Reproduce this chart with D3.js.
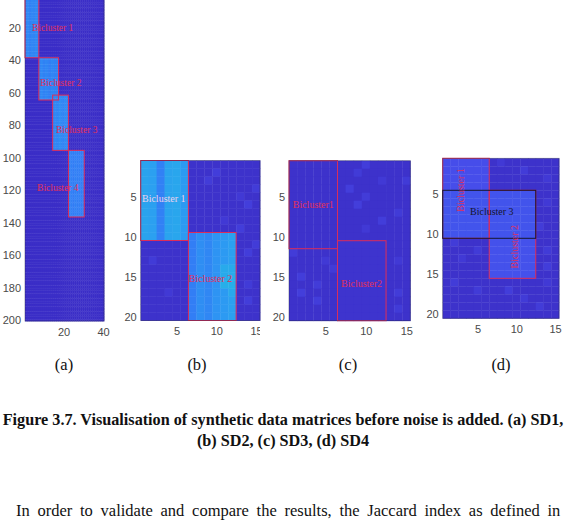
<!DOCTYPE html>
<html>
<head>
<meta charset="utf-8">
<script src="https://cdn.jsdelivr.net/npm/d3@7"></script>
<style>
  body { margin: 0; background: #fff; }
  .tick text { font-family: "Liberation Sans", Arial, sans-serif; font-size: 11px; fill: #4a4a4a; }
  .bc-label { font-family: "Liberation Serif", "Times New Roman", serif; font-size: 10px; }
  .caption { font-family: "Liberation Serif", "Times New Roman", serif; font-size: 16.5px; fill: #111; }
</style>
</head>
<body>
<svg id="fig" width="566" height="531"></svg>
<script>
// matrix sizes [rows, cols]
const sd1Size = [200, 40];
const sd2Size = [20, 15];
const sd3Size = [20, 15];
const sd4Size = [20, 15];

// background level of each matrix
const sd1Background = 0.02;
const sd2Background = 0.05;
const sd3Background = 0.05;
const sd4Background = 0.05;

// biclusters: row range, col range, value per column
const sd1Biclusters = [
  { name: "Bicluster 1", rows: [1, 38], cols: [1, 7], colVals: [0.6, 0.63, 0.58, 0.62, 0.6, 0.64, 0.6] },
  { name: "Bicluster 2", rows: [39, 64], cols: [8, 17], colVals: [0.6, 0.64, 0.58, 0.62, 0.6, 0.56, 0.62, 0.6, 0.58, 0.6] },
  { name: "Bicluster 3", rows: [62, 95], cols: [15, 22], colVals: [0.62, 0.64, 0.6, 0.66, 0.62, 0.6, 0.64, 0.6] },
  { name: "Bicluster 4", rows: [96, 136], cols: [23, 30], colVals: [0.56, 0.58, 0.55, 0.58, 0.56, 0.57, 0.55, 0.56] }
];
const sd2Biclusters = [
  { name: "Bicluster 1", rows: [1, 10], cols: [1, 6], colVals: [0.8, 0.78, 0.58, 0.8, 0.82, 0.74] },
  { name: "Bicluster 2", rows: [10, 20], cols: [7, 12], colVals: [0.56, 0.66, 0.62, 0.7, 0.74, 0.78] }
];
const sd3Biclusters = [
  { name: "Bicluster1", rows: [1, 11], cols: [1, 6], colVals: [0.05, 0.05, 0.05, 0.05, 0.05, 0.05] },
  { name: "Bicluster2", rows: [11, 20], cols: [7, 12], colVals: [0.07, 0.07, 0.07, 0.07, 0.07, 0.07] }
];
const sd4Biclusters = [
  { name: "Bicluster 1", rows: [1, 10], cols: [1, 6], colVals: [0.28, 0.28, 0.28, 0.28, 0.28, 0.28] },
  { name: "Bicluster 2", rows: [5, 15], cols: [7, 12], colVals: [0.3, 0.3, 0.3, 0.3, 0.3, 0.3] },
  { name: "Bicluster 3", rows: [5, 10], cols: [1, 12], colVals: [0.32, 0.32, 0.32, 0.32, 0.32, 0.32, 0.32, 0.32, 0.32, 0.32, 0.32, 0.32] }
];

// single cells that differ from the block value: [row, col, value]
const sd2Spots = [
  [14, 11, 0.85], [15, 11, 0.85], [16, 11, 0.88], [14, 12, 0.85], [15, 12, 0.86], [16, 12, 0.88], [17, 12, 0.84],
  [2, 10, 0.15], [3, 9, 0.14], [6, 14, 0.16], [8, 11, 0.12], [9, 13, 0.15], [4, 15, 0.14], [12, 14, 0.15],
  [13, 2, 0.13], [17, 4, 0.12], [18, 14, 0.15], [5, 13, 0.12], [11, 15, 0.14], [16, 14, 0.13]
];
const sd3Spots = [
  [1, 10, 0.15], [2, 9, 0.13], [3, 12, 0.12], [4, 8, 0.16], [5, 10, 0.14], [6, 9, 0.16], [7, 14, 0.13],
  [8, 12, 0.15], [9, 10, 0.12], [12, 1, 0.14], [13, 5, 0.12], [15, 2, 0.15], [16, 4, 0.14], [17, 2, 0.16],
  [18, 4, 0.15], [14, 6, 0.13], [19, 14, 0.13], [13, 14, 0.12], [3, 15, 0.13], [17, 14, 0.14]
];
const sd4Spots = [
  [1, 8, 0.12], [2, 11, 0.14], [3, 14, 0.12], [11, 2, 0.14], [12, 5, 0.13], [13, 3, 0.12], [14, 14, 0.15],
  [16, 2, 0.14], [17, 5, 0.13], [17, 9, 0.15], [18, 11, 0.13], [19, 13, 0.14], [16, 14, 0.12], [12, 14, 0.13],
  [6, 14, 0.12], [9, 13, 0.14]
];

// text annotations in data coordinates (col, row)
const sd1Labels = [
  { text: "Bicluster 1", c: 4.0, r: 20.2 },
  { text: "Bicluster 2", c: 8.1, r: 54.0 },
  { text: "Bicluster 3", c: 16.2, r: 83.0 },
  { text: "Bicluster 4", c: 6.6, r: 118.7 }
];
const sd2Labels = [
  { text: "Bicluster 1", c: 0.66, r: 5.2, tone: "light" },
  { text: "Bicluster 2", c: 6.54, r: 15.2 }
];
const sd3Labels = [
  { text: "Bicluster1", c: 0.96, r: 6.0 },
  { text: "Bicluster2", c: 6.93, r: 15.8 }
];
const sd4Labels = [
  { text: "Bicluster 1", c: 2.82, r: 4.46, vertical: true },
  { text: "Bicluster 3", c: 4.02, r: 7.09, tone: "dark" },
  { text: "Bicluster 2", c: 9.7, r: 11.55, vertical: true }
];

// tick labels
const sd1RowTicks = [20, 40, 60, 80, 100, 120, 140, 160, 180, 200];
const sd1ColTicks = [20, 40];
const smallRowTicks = [5, 10, 15, 20];
const smallColTicks = [5, 10, 15];

const panelNames = ["(a)", "(b)", "(c)", "(d)"];
const captionLines = [
  "Figure 3.7. Visualisation of synthetic data matrices before noise is added. (a) SD1,",
  "(b) SD2, (c) SD3, (d) SD4"
];
const bodyText = "In order to validate and compare the results, the Jaccard index as defined in";

const fig = d3.select("#fig");

const color = d3.scaleLinear()
  .domain([0, 0.25, 0.5, 0.75, 1])
  .range(["#3a2cc4", "#4848e8", "#3474f6", "#2c9cf2", "#22c0e0"])
  .clamp(true);

function buildMatrix(size, bg, biclusters, spots) {
  const [nr, nc] = size;
  const cells = [];
  for (let r = 1; r <= nr; r++) {
    for (let c = 1; c <= nc; c++) cells.push({ r, c, v: bg });
  }
  const at = (r, c) => cells[(r - 1) * nc + (c - 1)];
  biclusters.forEach(b => {
    for (let r = b.rows[0]; r <= b.rows[1]; r++) {
      for (let c = b.cols[0]; c <= b.cols[1]; c++) at(r, c).v = b.colVals[c - b.cols[0]];
    }
  });
  (spots || []).forEach(([r, c, v]) => { at(r, c).v = v; });
  return cells;
}

function drawPanel(p) {
  const g = fig.append("g");
  const x = d3.scaleLinear().domain([0.5, p.size[1] + 0.5]).range([p.left, p.right]);
  const y = d3.scaleLinear().domain([0.5, p.size[0] + 0.5]).range([p.top, p.bottom]);
  const cw = x(1.5) - x(0.5);
  const ch = y(1.5) - y(0.5);
  const cells = buildMatrix(p.size, p.bg, p.biclusters, p.spots);

  g.append("g")
    .selectAll("rect")
    .data(cells)
    .join("rect")
    .attr("x", d => x(d.c - 0.5))
    .attr("y", d => y(d.r - 0.5))
    .attr("width", cw + 0.4)
    .attr("height", ch + 0.4)
    .attr("fill", d => color(d.v));

  g.append("g")
    .selectAll("rect")
    .data(p.biclusters)
    .join("rect")
    .attr("x", d => x(d.cols[0] - 0.5))
    .attr("y", d => y(d.rows[0] - 0.5))
    .attr("width", d => x(d.cols[1] + 0.5) - x(d.cols[0] - 0.5))
    .attr("height", d => y(d.rows[1] + 0.5) - y(d.rows[0] - 0.5))
    .attr("fill", "none")
    .attr("stroke", d => (p.darkBox === d.name ? "#15152e" : "#dc2d5a"))
    .attr("stroke-width", 1);

  const tones = { light: "#ead2ee", dark: "#15152e" };
  g.append("g")
    .selectAll("text")
    .data(p.labels)
    .join("text")
    .attr("class", "bc-label")
    .attr("transform", d => `translate(${x(d.c)},${y(d.r)})` + (d.vertical ? " rotate(-90)" : ""))
    .attr("text-anchor", d => (d.vertical ? "middle" : "start"))
    .attr("dy", "0.35em")
    .style("font-size", p.labelSize + "px")
    .attr("fill", d => tones[d.tone] || "#e2305a")
    .text(d => d.text);

  // axes box
  g.append("rect")
    .attr("x", p.left).attr("y", p.top)
    .attr("width", p.right - p.left).attr("height", p.bottom - p.top)
    .attr("fill", "none")
    .attr("stroke", "#26264a")
    .attr("stroke-opacity", 0.5)
    .attr("stroke-width", 0.8);

  g.append("g")
    .attr("transform", `translate(${p.left},0)`)
    .call(d3.axisLeft(y).tickValues(p.rowTicks).tickSize(0).tickPadding(4))
    .call(a => a.select(".domain").remove());

  const xa = g.append("g")
    .attr("transform", `translate(0,${p.bottom})`)
    .call(d3.axisBottom(x).tickValues(p.colTicks).tickSize(0).tickPadding(7))
    .call(a => a.select(".domain").remove());
  if (p.clipRight) {
    const id = "clip-" + p.name.replace(/\W/g, "");
    fig.append("clipPath").attr("id", id)
      .append("rect").attr("x", 0).attr("y", -p.bottom).attr("width", p.clipRight).attr("height", 1000);
    xa.attr("clip-path", `url(#${id})`);
  }

  fig.append("text")
    .attr("class", "caption")
    .attr("x", p.captionX)
    .attr("y", 370)
    .attr("text-anchor", "middle")
    .text(p.name);
}

const panels = [
  { name: panelNames[0], size: sd1Size, bg: sd1Background, biclusters: sd1Biclusters, spots: [], labels: sd1Labels,
    left: 25, right: 104, top: -4, bottom: 321, rowTicks: sd1RowTicks, colTicks: sd1ColTicks, labelSize: 9.5, captionX: 64 },
  { name: panelNames[1], size: sd2Size, bg: sd2Background, biclusters: sd2Biclusters, spots: sd2Spots, labels: sd2Labels,
    left: 140.7, right: 260, top: 160.5, bottom: 320.5, rowTicks: smallRowTicks, colTicks: smallColTicks, labelSize: 10,
    captionX: 197, clipRight: 260 },
  { name: panelNames[2], size: sd3Size, bg: sd3Background, biclusters: sd3Biclusters, spots: sd3Spots, labels: sd3Labels,
    left: 289, right: 410.3, top: 160.7, bottom: 320.7, rowTicks: smallRowTicks, colTicks: smallColTicks, labelSize: 10, captionX: 348 },
  { name: panelNames[3], size: sd4Size, bg: sd4Background, biclusters: sd4Biclusters, spots: sd4Spots, labels: sd4Labels,
    left: 442.7, right: 559, top: 158.3, bottom: 318.3, rowTicks: smallRowTicks, colTicks: smallColTicks, labelSize: 10,
    captionX: 501, darkBox: "Bicluster 3" }
];

panels.forEach(drawPanel);

fig.selectAll("text.figcap")
  .data(captionLines)
  .join("text")
  .attr("class", "caption figcap")
  .attr("x", 283)
  .attr("y", (d, i) => 424.5 + i * 21)
  .attr("text-anchor", "middle")
  .style("font-weight", "bold")
  .style("font-size", "16.2px")
  .text(d => d);

fig.append("text")
  .attr("class", "caption")
  .attr("x", 16)
  .attr("y", 515.5)
  .style("word-spacing", "3.6px")
  .text(bodyText);
</script>
</body>
</html>
